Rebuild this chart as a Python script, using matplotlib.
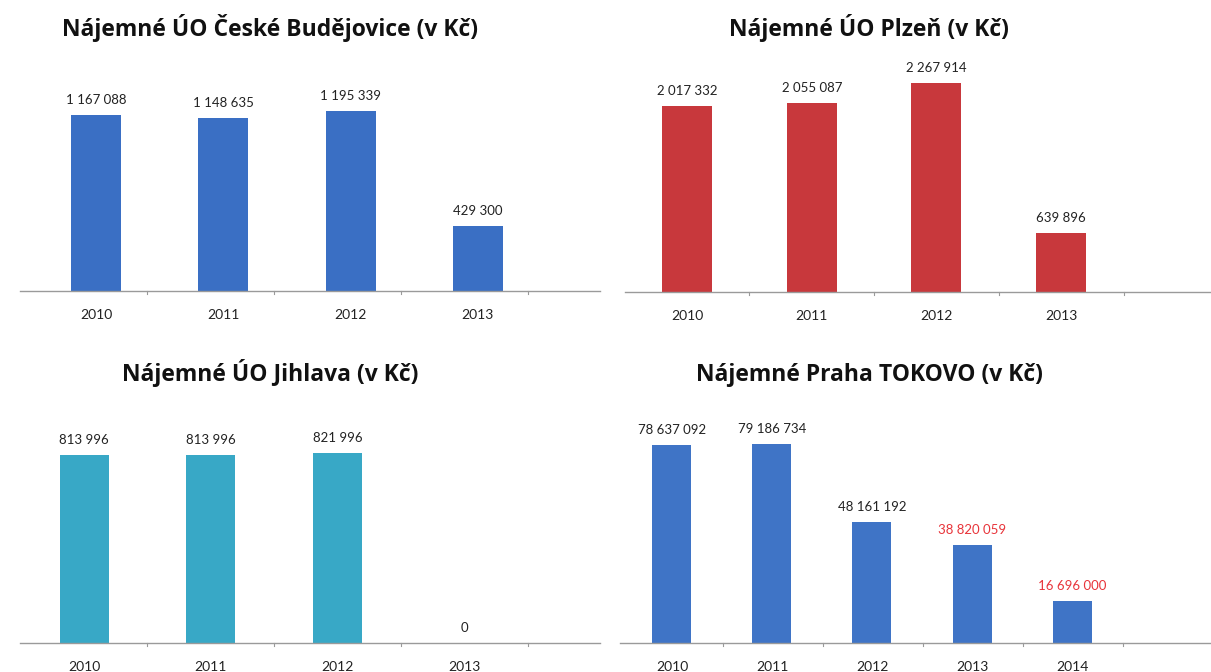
import matplotlib
matplotlib.use("Agg")
import matplotlib.pyplot as plt

W, H = 1211, 672

# ---- data ----
years_4 = ["2010", "2011", "2012", "2013"]
years_5 = ["2010", "2011", "2012", "2013", "2014"]

cb_values = [1167088, 1148635, 1195339, 429300]
plzen_values = [2017332, 2055087, 2267914, 639896]
jihlava_values = [813996, 813996, 821996, 0]
praha_values = [78637092, 79186734, 48161192, 38820059, 16696000]

cb_labels = ["1 167 088", "1 148 635", "1 195 339", "429 300"]
plzen_labels = ["2 017 332", "2 055 087", "2 267 914", "639 896"]
jihlava_labels = ["813 996", "813 996", "821 996", "0"]
praha_labels = ["78 637 092", "79 186 734", "48 161 192", "38 820 059", "16 696 000"]
praha_label_colors = ["#222222", "#222222", "#222222", "#e8343a", "#e8343a"]

titles = [
    "Nájemné ÚO České Budějovice (v Kč)",
    "Nájemné ÚO Plzeň (v Kč)",
    "Nájemné ÚO Jihlava (v Kč)",
    "Nájemné Praha TOKOVO (v Kč)",
]

fig = plt.figure(figsize=(W / 100, H / 100), dpi=100)
fig.patch.set_facecolor("white")

LABEL_FONT = ["Lato", "DejaVu Sans"]
TITLE_FONT = ["Open Sans", "DejaVu Sans"]


def panel(cats, vals, labels, color, first_c, spacing, bar_w_px, x_left, x_right,
          base_y, ref_idx, ref_top_y, top_y=50, label_colors=None, tick_px=None):
    xl = (x_left - first_c) / spacing
    xr = (x_right - first_c) / spacing
    ppv = (base_y - ref_top_y) / vals[ref_idx]  # pixels per value
    ymax = (base_y - top_y) / ppv
    ax = fig.add_axes([x_left / W, 1 - base_y / H, (x_right - x_left) / W,
                       (base_y - top_y) / H])
    ax.set_xlim(xl, xr)
    ax.set_ylim(0, ymax)
    xs = list(range(len(cats)))
    ax.bar(xs, vals, width=bar_w_px / spacing, color=color, zorder=2)
    if label_colors is None:
        label_colors = ["#222222"] * len(cats)
    for x, v, lab, lc in zip(xs, vals, labels, label_colors):
        ax.annotate(lab, (x, v), xytext=(0, 9), textcoords="offset pixels",
                    ha="center", va="bottom", fontsize=9.5, color=lc,
                    family=LABEL_FONT)
    for s in ["top", "right", "left"]:
        ax.spines[s].set_visible(False)
    ax.spines["bottom"].set_color("#9a9a9a")
    ax.spines["bottom"].set_linewidth(1.0)
    ax.set_yticks([])
    ax.set_xticks(xs)
    ax.set_xticklabels(cats, fontsize=10, family=LABEL_FONT, color="#222222")
    ax.tick_params(axis="x", length=0, pad=13)
    if tick_px:
        for t in tick_px:
            tx = (t - first_c) / spacing
            ax.plot([tx, tx], [0, -ymax * 0.012], color="#9a9a9a", lw=0.8,
                    clip_on=False)
    ax.patch.set_alpha(0)
    return ax


# top-left: České Budějovice
panel(years_4, cb_values, cb_labels, "#3a6fc4", 96, 127.3, 50, 20, 600,
      291, 2, 111, tick_px=[147, 274, 401, 528])
# top-right: Plzeň
panel(years_4, plzen_values, plzen_labels, "#c8383c", 687, 124.7, 50, 625, 1211,
      292, 2, 83, tick_px=[749, 874, 999, 1124])
# bottom-left: Jihlava
panel(years_4, jihlava_values, jihlava_labels, "#38a8c6", 84, 126.7, 49, 20, 600,
      643, 0, 455, top_y=400, tick_px=[147, 274, 401, 528])
# bottom-right: Praha
panel(years_5, praha_values, praha_labels, "#3f74c6", 672, 100, 39, 620, 1211,
      643, 1, 444, top_y=400, label_colors=praha_label_colors,
      tick_px=[723, 823, 923, 1023, 1123])

# titles
title_pos = [(270, 28), (869, 28), (270, 373), (869, 375)]
for t, (x, y) in zip(titles, title_pos):
    fig.text(x / W, 1 - y / H, t, ha="center", va="center", fontsize=16.5,
             fontweight="bold", family=TITLE_FONT, color="#111111")

fig.savefig("out.png", dpi=100, facecolor="white")
